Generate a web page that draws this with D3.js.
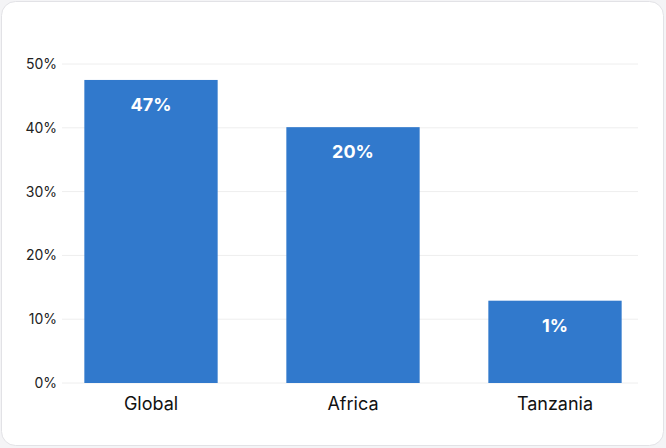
<!DOCTYPE html>
<html><head><meta charset="utf-8">
<script src="https://cdn.jsdelivr.net/npm/d3@7"></script>
<style>
body{margin:0;background:#f4f4f6;font-family:Inter,"Noto Sans",sans-serif;}
</style></head>
<body>
<svg id="chart" width="666" height="448"></svg>
<script>
// data
const categories = ["Global", "Africa", "Tanzania"];
const barValues = [47.5, 40.1, 12.9];
const barLabels = ["47%", "20%", "1%"];
const yTicks = [0, 10, 20, 30, 40, 50];

var svg = d3.select("#chart");

// card background
svg.append("rect").attr("x", 1.5).attr("y", 1.5).attr("width", 662).attr("height", 444)
  .attr("rx", 14).attr("fill", "#fff").attr("stroke", "#e2e2e6");

let x = d3.scaleBand().domain(categories).range([50, 656]).paddingInner(0.34).paddingOuter(0.17);
let y = d3.scaleLinear().domain([0, 50]).range([383, 64]);

// gridlines
svg.selectAll(".grid").data(yTicks).enter().append("line")
  .attr("x1", 62).attr("x2", 638)
  .attr("y1", d => y(d)).attr("y2", d => y(d))
  .attr("stroke", "#eeeeee");

// y axis labels
svg.selectAll(".ylab").data(yTicks).enter().append("text")
  .attr("x", 57).attr("y", d => y(d)).attr("dy", "0.35em")
  .attr("text-anchor", "end").attr("font-size", 14).attr("fill", "#222")
  .text(d => d + "%");

// bars
svg.selectAll(".bar").data(categories).enter().append("rect")
  .attr("x", d => x(d)).attr("width", x.bandwidth())
  .attr("y", (d, i) => y(barValues[i]))
  .attr("height", (d, i) => y(0) - y(barValues[i]))
  .attr("fill", "#3179cc");

// value labels
svg.selectAll(".val").data(categories).enter().append("text")
  .attr("x", d => x(d) + x.bandwidth() / 2)
  .attr("y", (d, i) => y(barValues[i]) + 31)
  .attr("text-anchor", "middle").attr("font-size", 18).attr("font-weight", 700)
  .attr("fill", "#fff")
  .text((d, i) => barLabels[i]);

// category labels
svg.selectAll(".cat").data(categories).enter().append("text")
  .attr("x", d => x(d) + x.bandwidth() / 2).attr("y", 410)
  .attr("text-anchor", "middle").attr("font-size", 18).attr("fill", "#111")
  .text(d => d);
</script>
</body></html>
